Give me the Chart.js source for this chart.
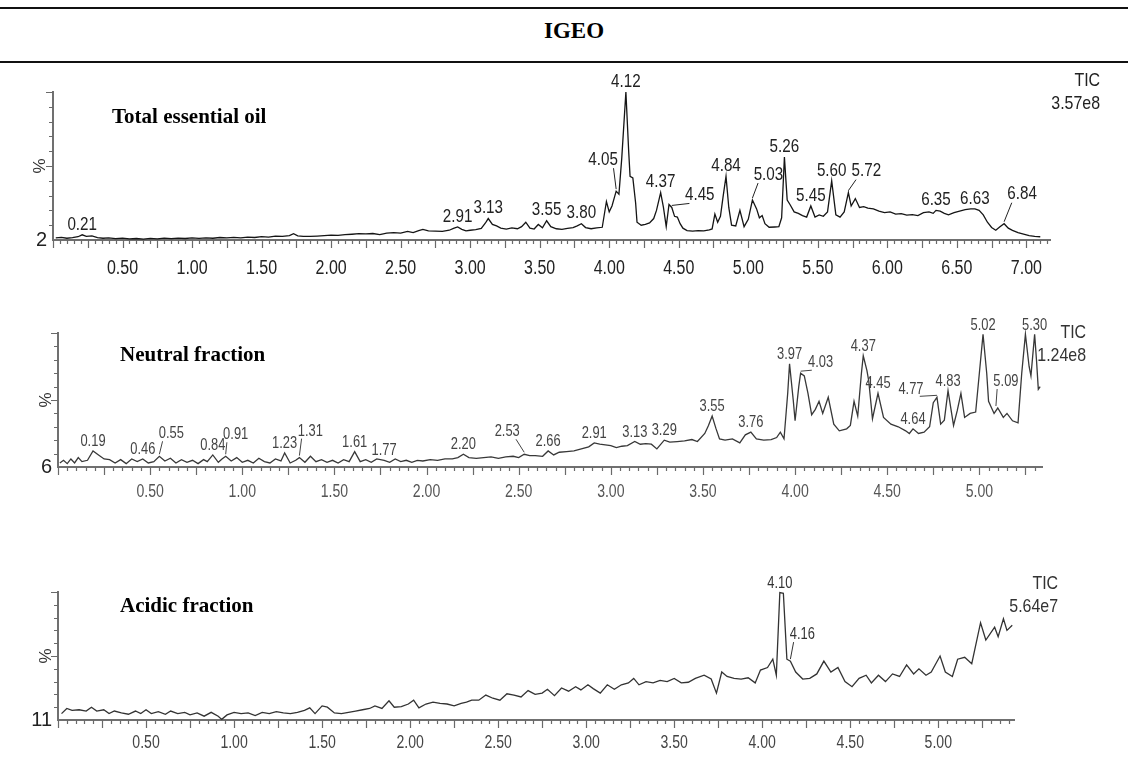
<!DOCTYPE html>
<html>
<head>
<meta charset="utf-8">
<script src="https://cdn.jsdelivr.net/npm/chart.js@4.4.1/dist/chart.umd.min.js"></script>
<style>
  body { margin: 0; background: #fff; width: 1128px; height: 778px; position: relative; overflow: hidden;
         font-family: "Liberation Sans", Arial, sans-serif; }
  .rule { position: absolute; left: 0; width: 1128px; background: #111; }
  .head { position: absolute; top: 18px; left: 10px; width: 1128px; text-align: center;
          font: bold 23px "Liberation Serif", "Times New Roman", serif; }
  .title { position: absolute; font: bold 21px "Liberation Serif", "Times New Roman", serif; line-height: 24px; }
  .tic { position: absolute; text-align: right; font-size: 19px; line-height: 23px; color: #222;
         transform: scaleX(0.84); transform-origin: right center; }
  .panel { position: absolute; left: 0; width: 1128px; }
</style>
</head>
<body>
<div class="rule" style="top:7px;height:2px"></div>
<div class="head">IGEO</div>
<div class="rule" style="top:61px;height:2px"></div>

<div class="panel" style="top:62px;height:226px"><canvas id="oil"></canvas></div>
<div class="panel" style="top:300px;height:210px"><canvas id="neutral"></canvas></div>
<div class="panel" style="top:560px;height:218px"><canvas id="acid"></canvas></div>

<div class="title" style="left:112px;top:104px">Total essential oil</div>
<div class="title" style="left:120px;top:342px">Neutral fraction</div>
<div class="title" style="left:120px;top:593px">Acidic fraction</div>

<div class="tic" style="right:28px;top:68px">TIC<br>3.57e8</div>
<div class="tic" style="right:42px;top:320px;color:#333">TIC<br>1.24e8</div>
<div class="tic" style="right:70px;top:571px;color:#333">TIC<br>5.64e7</div>

<script>
// total essential oil
const oilTimes = [
  0.02,0.06,0.10,0.14,0.18,0.21,0.24,0.28,0.32,0.36,
  0.40,0.45,0.50,0.55,0.60,0.65,0.70,0.75,0.80,0.85,
  0.90,0.95,1.00,1.05,1.10,1.15,1.20,1.25,1.30,1.35,
  1.40,1.45,1.50,1.55,1.60,1.65,1.70,1.73,1.76,1.80,
  1.85,1.90,1.95,2.00,2.05,2.10,2.15,2.20,2.25,2.30,
  2.35,2.40,2.45,2.50,2.55,2.59,2.63,2.66,2.70,2.75,
  2.80,2.85,2.88,2.91,2.94,2.97,3.00,3.04,3.08,3.11,
  3.13,3.16,3.19,3.22,3.26,3.30,3.34,3.37,3.40,3.43,
  3.46,3.49,3.52,3.55,3.58,3.62,3.66,3.70,3.74,3.77,
  3.80,3.83,3.87,3.91,3.95,3.98,4.00,4.02,4.05,4.07,
  4.09,4.12,4.14,4.15,4.17,4.19,4.20,4.23,4.26,4.29,
  4.32,4.34,4.37,4.39,4.41,4.43,4.45,4.47,4.49,4.51,
  4.53,4.56,4.60,4.64,4.68,4.72,4.74,4.76,4.78,4.80,
  4.82,4.84,4.86,4.88,4.91,4.94,4.97,5.00,5.03,5.06,
  5.08,5.10,5.12,5.15,5.19,5.22,5.24,5.26,5.28,5.30,
  5.33,5.36,5.39,5.42,5.45,5.48,5.51,5.54,5.57,5.60,
  5.63,5.66,5.69,5.72,5.74,5.77,5.80,5.83,5.86,5.90,
  5.94,5.98,6.02,6.06,6.10,6.14,6.18,6.22,6.26,6.30,
  6.33,6.35,6.38,6.41,6.44,6.48,6.52,6.56,6.60,6.63,
  6.66,6.69,6.72,6.75,6.78,6.81,6.84,6.87,6.90,6.94,
  6.98,7.02,7.06,7.10
];
const oilPct = [
  1.5,1.8,1.2,1.6,2.2,3.5,2.4,2.8,1.6,1.2,
  1.5,0.9,1.2,0.7,1.0,0.6,1.1,0.8,1.2,0.9,
  1.3,1.0,1.4,1.1,1.5,1.2,1.7,1.4,1.8,1.5,
  2.0,1.7,2.3,2.0,2.6,2.4,2.9,4.2,2.8,2.5,
  2.4,2.6,2.9,3.3,3.1,3.6,3.9,4.3,4.2,4.4,
  3.6,4.6,5.0,4.6,5.8,5.0,6.4,7.2,6.2,6.0,
  5.8,6.6,7.8,8.8,7.2,6.2,6.6,7.0,7.8,11.5,
  14.5,10.5,9.5,8.0,7.4,8.2,7.6,9.0,12.0,8.0,
  7.4,10.5,8.2,13.0,9.0,7.6,7.2,7.8,8.4,9.6,
  11.0,8.4,7.6,8.2,8.6,26,19,23,33,31,
  55,100,60,43,42,25,12,10,10.5,11.5,
  14.5,20,32,22,9,24,22,16,15.5,11,
  8,6.4,6.0,6.4,6.2,6.8,7.5,17.5,12,16,
  30,43,22,10,9.5,20,9,14,27,21,
  15,16.5,11,8.6,8.8,9.0,15,56,27,24,
  19,18,16.5,15.5,23,15.5,17,16,19,40,
  17,15.5,19,32,23,28,22,22.5,21.5,21,
  19.5,18.5,19,17.5,17.8,16.8,17.2,16.5,18.5,19,
  18,20,19.5,18,17,18.5,19.5,20.5,21,21,
  20,17,12,8.5,6.6,9,11,8,6.5,5,
  4,3,2.5,2.2
];
const oilTicks = [0.5,1.0,1.5,2.0,2.5,3.0,3.5,4.0,4.5,5.0,5.5,6.0,6.5,7.0];
const oilPeaks = ['0.21','2.91','3.13','3.55','3.80','4.05','4.12','4.37','4.45','4.84',
                  '5.03','5.26','5.45','5.60','5.72','6.35','6.63','6.84'];

// neutral fraction
const neutralTimes = [
  0.01,0.03,0.05,0.07,0.09,0.11,0.13,0.16,0.19,0.22,
  0.25,0.28,0.31,0.34,0.37,0.40,0.43,0.46,0.49,0.52,
  0.55,0.58,0.61,0.64,0.67,0.70,0.73,0.76,0.79,0.81,
  0.84,0.87,0.89,0.91,0.94,0.97,1.00,1.03,1.06,1.09,
  1.12,1.15,1.18,1.21,1.23,1.26,1.29,1.31,1.34,1.37,
  1.40,1.43,1.46,1.49,1.52,1.55,1.58,1.61,1.64,1.67,
  1.70,1.73,1.77,1.80,1.83,1.86,1.89,1.92,1.95,1.98,
  2.02,2.06,2.10,2.14,2.17,2.20,2.23,2.27,2.31,2.35,
  2.39,2.43,2.47,2.50,2.53,2.56,2.59,2.63,2.66,2.69,
  2.72,2.76,2.80,2.84,2.88,2.91,2.94,2.97,3.00,3.03,
  3.06,3.09,3.13,3.16,3.19,3.22,3.25,3.29,3.32,3.36,
  3.40,3.44,3.47,3.51,3.53,3.55,3.57,3.59,3.62,3.66,
  3.70,3.73,3.76,3.79,3.83,3.87,3.90,3.92,3.94,3.96,
  3.97,3.99,4.00,4.02,4.03,4.05,4.07,4.09,4.11,4.13,
  4.15,4.18,4.21,4.24,4.28,4.30,4.32,4.34,4.36,4.37,
  4.39,4.40,4.42,4.45,4.48,4.52,4.56,4.60,4.62,4.64,
  4.67,4.70,4.73,4.75,4.77,4.79,4.81,4.83,4.86,4.88,
  4.90,4.92,4.95,4.98,5.00,5.02,5.04,5.05,5.08,5.10,
  5.13,5.15,5.18,5.21,5.23,5.25,5.27,5.28,5.30,5.31,
  5.32,5.33
];
const neutralPct = [
  3,5,2.5,6,3,7,4,5,12,9,
  6,5.5,3,5.5,2.5,6,4,6,3,4,
  8,4.5,6.5,3,5.5,3.5,5,2.5,5.5,4,
  9,3.5,6,8,4.5,7,3.5,5,3,6.5,
  4,3,6,4.5,10.5,3,5,7,3.5,8,
  4,5.5,3.5,5,3,5.5,4,11.5,4,5.5,
  3.5,6,5,3.5,6,4,5,3.5,5,4.5,
  5.5,5,6,6,7,9.5,7,6.5,7,7.5,
  6.5,7.5,8,7,9.5,8.5,8.5,8,12,9,
  11,11.5,12,13.5,15,18,17,16.5,16,14.5,
  15.5,16,19,17,17.5,17,13.5,20,18.5,19,
  19.5,20.5,19,25,31,38,29,21,20,21,
  18,24,26,21,20,20.5,22,26,21,55,
  77,50,34.5,60,70,68,55,39,43,49,
  40,52,32,27,28.5,31,49,38,70,83,
  72,64,36,55,37,32,30,27,25,28.5,
  25,26,30,48,52,32,35,57,31,42,
  55,37,40,41,70,99,70,49,40,44,
  37,40,34.5,33,70,99,75,68,99,80,
  58,60
];
const neutralTicks = [0.5,1.0,1.5,2.0,2.5,3.0,3.5,4.0,4.5,5.0];
const neutralPeaks = ['0.19','0.46','0.55','0.84','0.91','1.23','1.31','1.61','1.77','2.20',
                      '2.53','2.66','2.91','3.13','3.29','3.55','3.76','3.97','4.03','4.37',
                      '4.45','4.64','4.77','4.83','5.02','5.09','5.30'];

// acidic fraction
const acidTimes = [
  0.02,0.05,0.08,0.12,0.16,0.19,0.22,0.26,0.29,0.32,
  0.36,0.40,0.44,0.47,0.50,0.53,0.57,0.61,0.64,0.68,
  0.72,0.75,0.79,0.83,0.87,0.91,0.93,0.96,1.00,1.04,
  1.08,1.12,1.16,1.20,1.24,1.28,1.32,1.36,1.40,1.43,
  1.46,1.50,1.53,1.57,1.61,1.65,1.69,1.73,1.77,1.80,
  1.84,1.88,1.91,1.95,1.99,2.02,2.05,2.09,2.13,2.17,
  2.21,2.25,2.29,2.32,2.35,2.39,2.43,2.47,2.51,2.55,
  2.59,2.63,2.67,2.71,2.75,2.78,2.82,2.86,2.90,2.94,
  2.97,3.01,3.04,3.08,3.12,3.16,3.20,3.24,3.27,3.30,
  3.34,3.38,3.42,3.46,3.50,3.54,3.58,3.62,3.67,3.71,
  3.74,3.77,3.80,3.84,3.88,3.92,3.96,3.99,4.03,4.06,
  4.08,4.10,4.12,4.14,4.16,4.19,4.23,4.27,4.31,4.35,
  4.39,4.43,4.47,4.51,4.55,4.59,4.62,4.66,4.70,4.74,
  4.78,4.82,4.86,4.89,4.93,4.96,5.01,5.04,5.08,5.11,
  5.15,5.19,5.24,5.27,5.32,5.34,5.37,5.39,5.42
];
const acidPct = [
  5,9,7.5,8,7,10,7,8,5,7,
  5.5,4.5,7,5,8,5,6.5,4.5,7,5,
  6,4,5.5,3,6,3,0.5,4,6,5,
  5.5,3.5,6,5,6.5,5.5,5,6,7.5,9.5,
  5,11,10,5.5,5,6,7,8,9,11,
  9,15,10,10.5,12.5,15.5,9.5,12.5,14,13,
  12.5,11,13,14,15.5,15.5,19.5,17,15.5,20.5,
  19.5,18,23,20,21,24,19,25,22.5,26,
  23.5,27.5,24.5,21,27.5,24,27.5,29,32.5,27.5,
  30,29,31,30,32.5,29,29.5,32.5,35,32,
  21,37.5,34,32.5,32,33,29,39,41,47.5,
  35,99.5,99,47.5,46,37.5,32,32.5,36,46,
  37.5,41,30,26,32.5,35,29,35,30,36,
  34,43,36,40,35,37.5,50,37.5,34,47.5,
  49,44,76,62.5,72.5,65,79,70,74
];
const acidTicks = [0.5,1.0,1.5,2.0,2.5,3.0,3.5,4.0,4.5,5.0];
const acidPeaks = ['4.10','4.16'];

const sans = '"Liberation Sans", Arial, sans-serif';

// narrow text like the instrument software prints
function narrowText(ctx, text, x, y, sx) {
  ctx.save();
  ctx.translate(x, y);
  ctx.scale(sx, 1);
  ctx.fillText(text, 0, 0);
  ctx.restore();
}

// minor ticks every 0.05 min, longer every 0.25; y ticks every 10 %; x labels
const tickMarks = {
  id: 'tickMarks',
  afterDraw(chart, args, o) {
    const { ctx, scales: { x, y }, chartArea: a } = chart;
    ctx.save();
    ctx.strokeStyle = '#6a6a6a';
    ctx.lineWidth = 1.2;
    ctx.beginPath();
    for (let i = Math.ceil(x.min / 0.05); i * 0.05 <= x.max + 1e-9; i++) {
      const px = Math.round(x.getPixelForValue(i * 0.05)) + 0.5;
      ctx.moveTo(px, a.bottom);
      ctx.lineTo(px, a.bottom + (i % 5 === 0 ? 8 : 4));
    }
    for (let v = 10; v <= 100; v += 10) {
      const py = Math.round(y.getPixelForValue(v)) + 0.5;
      ctx.moveTo(a.left, py);
      ctx.lineTo(a.left - (v % 50 === 0 ? 7 : 4), py);
    }
    ctx.stroke();
    ctx.font = o.size + 'px ' + sans;
    ctx.fillStyle = o.color;
    ctx.textAlign = 'center';
    ctx.textBaseline = 'middle';
    x.ticks.forEach(t => {
      narrowText(ctx, t.value.toFixed(2), x.getPixelForValue(t.value), a.bottom + o.gap, o.sx);
    });
    ctx.restore();
  }
};

// retention time labels over the peaks
const peakLabels = {
  id: 'peakLabels',
  afterDatasetsDraw(chart, args, o) {
    const { ctx, scales: { x, y } } = chart;
    const pts = chart.data.datasets[0].data;
    ctx.save();
    ctx.font = o.size + 'px ' + sans;
    ctx.fillStyle = o.color;
    ctx.strokeStyle = o.color;
    ctx.lineWidth = 1;
    ctx.textAlign = 'center';
    ctx.textBaseline = 'bottom';
    o.labels.forEach(lab => {
      const t = parseFloat(lab);
      let top = 0;
      pts.forEach(p => { if (Math.abs(p.x - t) < 0.012 && p.y > top) top = p.y; });
      const px = x.getPixelForValue(t), py = y.getPixelForValue(top);
      const off = o.leaders[lab];
      if (off) {
        const cx = px + off[0], by = py + off[1];
        const w = ctx.measureText(lab).width * o.sx;
        ctx.beginPath();
        ctx.moveTo(cx - Math.sign(off[0]) * w * 0.35, by + 1);
        ctx.lineTo(px, py - 2);
        ctx.stroke();
        narrowText(ctx, lab, cx, by + 2, o.sx);
      } else {
        narrowText(ctx, lab, px, py - 1, o.sx);
      }
    });
    ctx.restore();
  }
};

function buildChart(id, p) {
  const pts = p.times.map((t, i) => ({ x: t, y: p.values[i] }));
  return new Chart(document.getElementById(id), {
    type: 'line',
    data: {
      datasets: [{
        data: pts,
        borderColor: p.lineColor,
        borderWidth: 1.3,
        pointRadius: 0,
        tension: 0,
        clip: false
      }]
    },
    options: {
      responsive: true,
      maintainAspectRatio: false,
      animation: false,
      events: [],
      layout: { padding: { top: p.padTop, right: p.padRight, left: 0, bottom: 0 } },
      plugins: {
        legend: { display: false },
        tooltip: { enabled: false },
        tickMarks: { size: p.axisSize, color: p.axisColor, gap: p.xGap, sx: p.axisSx },
        peakLabels: { labels: p.peaks, leaders: p.leaders, size: p.peakSize, sx: p.peakSx, color: p.peakColor }
      },
      scales: {
        x: {
          type: 'linear',
          min: 0,
          max: p.xMax,
          afterBuildTicks: s => { s.ticks = p.ticks.map(v => ({ value: v })); },
          afterFit: s => { s.height = p.xAxisHeight; },
          ticks: { display: false },
          grid: { display: false, drawTicks: false },
          border: { display: true, color: '#707070', width: 2 }
        },
        y: {
          min: 0,
          max: 100,
          afterBuildTicks: s => { s.ticks = [{ value: 0 }]; },
          afterFit: s => { s.width = p.axisLeft; },
          ticks: {
            callback: () => p.baseLabel,
            font: { family: sans, size: 20 },
            color: '#222',
            padding: 6
          },
          title: {
            display: true,
            text: '%',
            font: { family: sans, size: 17 },
            color: '#333',
            padding: { top: p.titlePad, bottom: 0 }
          },
          grid: { display: false, drawTicks: false },
          border: { display: true, color: '#707070', width: 2 }
        }
      }
    },
    plugins: [tickMarks, peakLabels]
  });
}

buildChart('oil', {
  times: oilTimes, values: oilPct, ticks: oilTicks, peaks: oilPeaks,
  leaders: { '4.05': [-13, -24], '4.45': [28, -5], '5.03': [16, -18], '5.72': [18, -14], '6.84': [18, -22] },
  xMax: 7.17, axisLeft: 53, padTop: 30, padRight: 78, xAxisHeight: 48, xGap: 28,
  axisSize: 20, axisSx: 0.8, axisColor: '#222', baseLabel: '2', titlePad: 30,
  peakSize: 19, peakSx: 0.8, peakColor: '#222', lineColor: '#151515'
});

buildChart('neutral', {
  times: neutralTimes, values: neutralPct, ticks: neutralTicks, peaks: neutralPeaks,
  leaders: { '0.55': [12, -16], '0.91': [10, -15], '1.31': [11, -20], '2.53': [-17, -16],
             '4.03': [20, -4], '4.77': [-26, -2], '5.09': [10, -20] },
  xMax: 5.34, axisLeft: 58, padTop: 33, padRight: 86, xAxisHeight: 43, xGap: 25,
  axisSize: 19, axisSx: 0.74, axisColor: '#555', baseLabel: '6', titlePad: 36,
  peakSize: 17, peakSx: 0.76, peakColor: '#444', lineColor: '#383838'
});

buildChart('acid', {
  times: acidTimes, values: acidPct, ticks: acidTicks, peaks: acidPeaks,
  leaders: { '4.16': [12, -20] },
  xMax: 5.43, axisLeft: 58, padTop: 32, padRight: 114, xAxisHeight: 58, xGap: 23,
  axisSize: 19, axisSx: 0.74, axisColor: '#444', baseLabel: '11', titlePad: 36,
  peakSize: 17, peakSx: 0.76, peakColor: '#333', lineColor: '#333'
});
</script>
</body>
</html>
